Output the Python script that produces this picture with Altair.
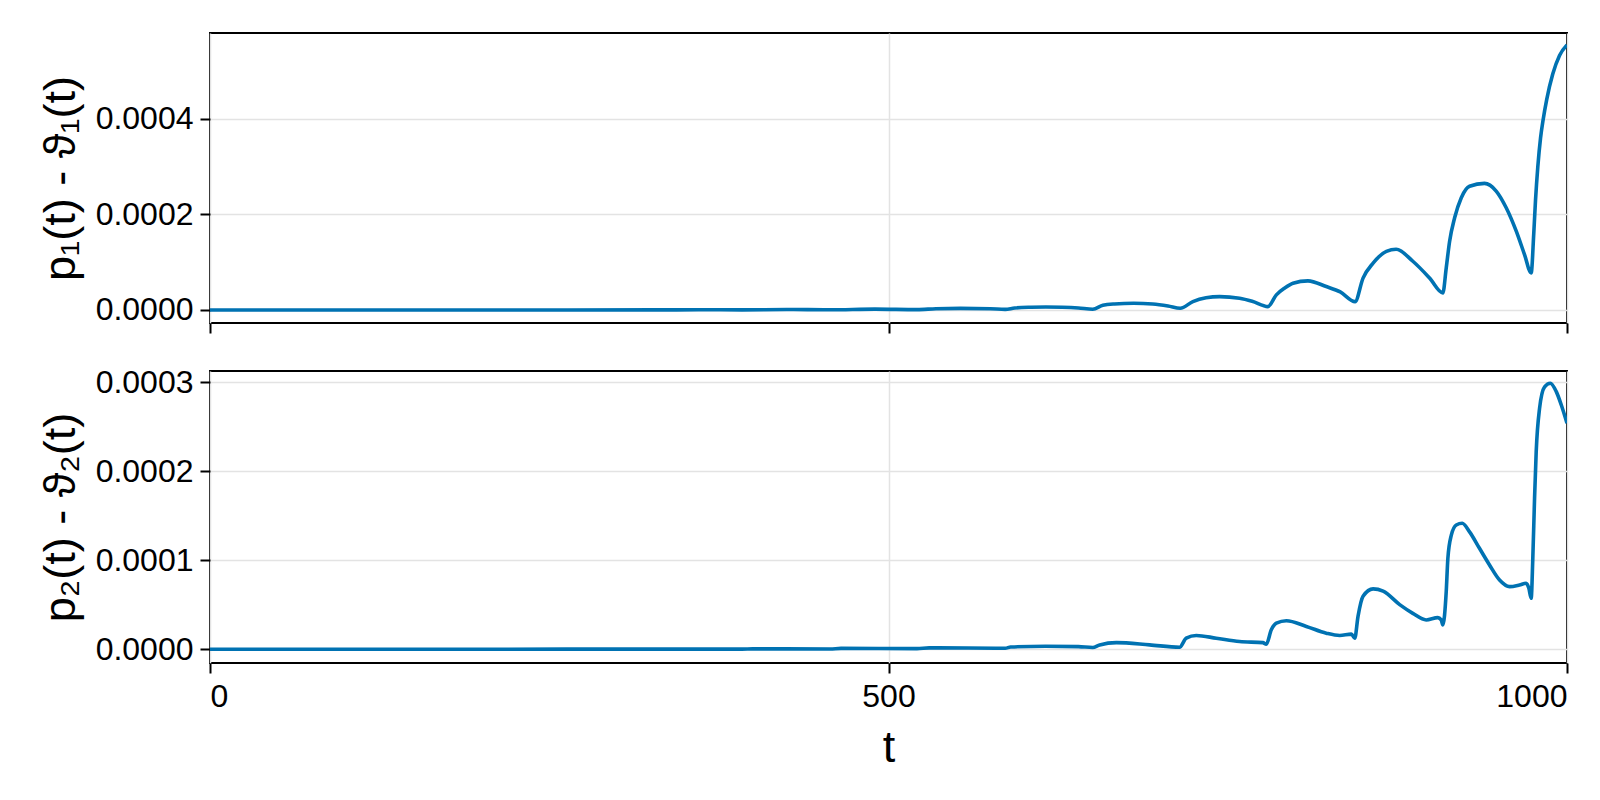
import altair as alt
import pandas as pd

# ---- data (values in units of 1e-4) ----
t_top = [0, 200, 327, 360, 392, 425, 457, 490, 521, 535, 553, 575, 586, 593, 605, 616,
         628, 640, 650.5, 658, 666.5, 680.6, 694.7, 706, 715, 724.3, 734, 744, 758.7,
         768, 779.6, 785.8, 792, 798.1, 809.1, 822.6, 832.9, 843.8, 849.7, 857.1, 866.9,
         874.1, 886.4, 898.7, 908.5, 911.0, 913.5, 917.2, 922.1, 928.2, 939.2, 947.8,
         955.2, 962.6, 968.7, 973.6, 975.5, 976.8, 978.5, 980.5, 982.5, 985.0, 989.5,
         994.5, 1000]
diff1_e4 = [0.0, 0.0, 0.001, 0.004, 0.002, 0.009, 0.004, 0.018, 0.007, 0.026, 0.034,
            0.026, 0.012, 0.042, 0.058, 0.063, 0.058, 0.042, 0.015, 0.098, 0.126, 0.14,
            0.126, 0.084, 0.035, 0.175, 0.255, 0.28, 0.246, 0.182, 0.07, 0.316, 0.46,
            0.56, 0.61, 0.49, 0.378, 0.175, 0.667, 0.98, 1.228, 1.27, 1.02, 0.67, 0.357,
            0.88, 1.44, 1.93, 2.35, 2.59, 2.65, 2.49, 2.14, 1.65, 1.16, 0.776, 1.6, 2.3,
            3.0, 3.6, 4.0, 4.4, 4.94, 5.33, 5.55]

t_bot = [0, 200, 327, 392, 400, 457, 465, 521, 530, 586, 590, 615.8, 640, 650.5, 655.6,
         667.9, 692.4, 714.5, 719.4, 726.8, 741.5, 758.7, 775.9, 778.4, 782.1, 785.8,
         793.2, 807.9, 822.6, 832.5, 841.1, 843.6, 846.0, 849.7, 857.1, 864.5, 876.7,
         886.4, 896.2, 904.8, 907.3, 908.5, 911.0, 912.2, 914.7, 918.4, 922.8, 928.2,
         935.5, 942.9, 950.3, 957.7, 965.0, 969.9, 971.9, 973.6, 974.8, 976.1, 977.3,
         979.8, 983.5, 987.7, 992.1, 995.8, 1000]
diff2_e4 = [0.0, 0.001, 0.002, 0.002, 0.005, 0.004, 0.01, 0.008, 0.016, 0.012, 0.026,
            0.034, 0.03, 0.02, 0.049, 0.075, 0.05, 0.023, 0.125, 0.155, 0.125, 0.087,
            0.075, 0.057, 0.219, 0.294, 0.321, 0.257, 0.181, 0.155, 0.17, 0.125, 0.37,
            0.596, 0.679, 0.653, 0.502, 0.404, 0.33, 0.356, 0.33, 0.273, 0.648, 1.02,
            1.28, 1.397, 1.416, 1.32, 1.135, 0.948, 0.779, 0.704, 0.723, 0.742, 0.685,
            0.573, 1.02, 1.7, 2.22, 2.71, 2.95, 2.99, 2.895, 2.745, 2.54]

x_ticks = [0, 500, 1000]
y1_ticks = [0.0, 0.0002, 0.0004]
y2_ticks = [0.0, 0.0001, 0.0002, 0.0003]

df1 = pd.DataFrame({"t": t_top, "v": [v * 1e-4 for v in diff1_e4]})
df2 = pd.DataFrame({"t": t_bot, "v": [v * 1e-4 for v in diff2_e4]})

LINE = "#0072B2"
FONT = "Liberation Sans"

xscale = alt.Scale(domain=[0, 1000], nice=False, zero=False)

top = alt.Chart(df1).mark_line(color=LINE, strokeWidth=3.6, clip=True,
                               interpolate="monotone").encode(
    x=alt.X("t:Q", scale=xscale,
            axis=alt.Axis(values=x_ticks, title=None, labels=False)),
    y=alt.Y("v:Q", scale=alt.Scale(domain=[-0.0000273, 0.00058], nice=False, zero=False),
            axis=alt.Axis(values=y1_ticks, format=".4f", title="p₁(t) - ϑ₁(t)")),
).properties(width=1357, height=290)

bottom = alt.Chart(df2).mark_line(color=LINE, strokeWidth=3.6, clip=True,
                                  interpolate="monotone").encode(
    x=alt.X("t:Q", scale=xscale,
            axis=alt.Axis(values=x_ticks, title="t", format="d", labelPadding=8,
                          titlePadding=13)),
    y=alt.Y("v:Q", scale=alt.Scale(domain=[-0.0000154, 0.0003127], nice=False, zero=False),
            axis=alt.Axis(values=y2_ticks, format=".4f", title="p₂(t) - ϑ₂(t)")),
).properties(width=1357, height=292)

chart = alt.vconcat(top, bottom, spacing=30).properties(
    padding={"left": 29, "top": 24, "right": 0, "bottom": 2}
).configure_view(
    stroke="black", strokeWidth=2
).configure_axis(
    domain=False,
    tickColor="black", tickWidth=2, tickSize=10,
    labelFont=FONT, labelFontSize=32, labelColor="black", labelPadding=7,
    titleFont=FONT, titleFontSize=45, titleFontWeight="normal", titleColor="black",
    titlePadding=12,
    gridColor="#e3e3e3", gridWidth=1.5,
)

chart.save("out.html", embed_options={"renderer": "svg", "actions": False})
